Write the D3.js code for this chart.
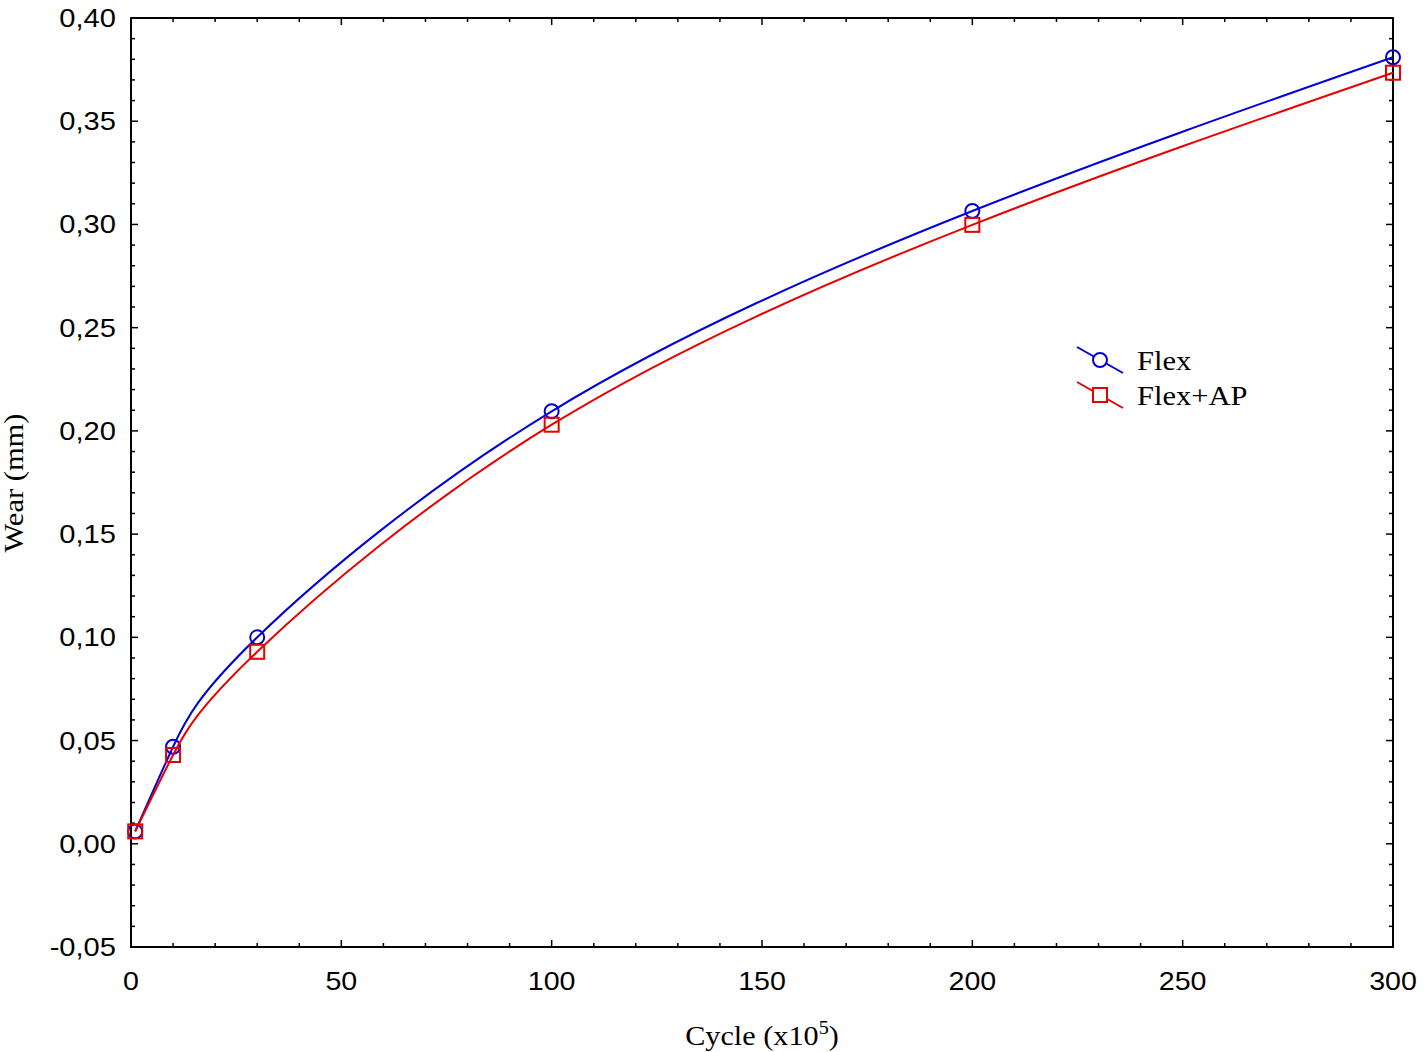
<!DOCTYPE html>
<html>
<head>
<meta charset="utf-8">
<script src="https://cdn.jsdelivr.net/npm/d3@7"></script>
<style>
  body { margin: 0; background: #fff; }
  svg { display: block; }
</style>
</head>
<body>
<div id="chart"></div>
<script>
// data
var cycles = [1, 10, 30, 100, 200, 300];
var flexWear = [0.006, 0.047, 0.100, 0.2095, 0.3065, 0.381];
var flexApWear = [0.006, 0.043, 0.093, 0.203, 0.2998, 0.3735];
var xTicks = [0, 50, 100, 150, 200, 250, 300];
var yTicks = [-0.05, 0, 0.05, 0.10, 0.15, 0.20, 0.25, 0.30, 0.35, 0.40];
var seriesNames = ["Flex", "Flex+AP"];
var seriesColors = ["#0000d8", "#e60000"];

var W = 1424, H = 1052;
var pLeft = 131, pRight = 1393, pTop = 18, pBottom = 947;
var sansFont = "Liberation Sans, Arial, sans-serif";
var serifFont = "Liberation Serif, Times New Roman, serif";
var mr = 7; // marker half size

var svg = d3.select("#chart").append("svg")
  .attr("width", W).attr("height", H);

var x = d3.scaleLinear().domain([0, 300]).range([pLeft, pRight]);
var y = d3.scaleLinear().domain([-0.05, 0.40]).range([pBottom, pTop]);

var fmt = function(d){ return d3.format(".2f")(d).replace(".", ",").replace("−", "-"); };

// minor + major ticks, pointing inward on all four sides
var xMinor = d3.range(0, 301, 10);
var yMinor = d3.range(-5, 41, 1).map(function(d){ return d / 100; });

var tk = svg.append("g").attr("stroke", "#000").attr("stroke-width", 1.5);
xMinor.forEach(function(v){
  var len = v % 50 === 0 ? 7 : 4;
  tk.append("line").attr("x1", x(v)).attr("x2", x(v)).attr("y1", pBottom).attr("y2", pBottom - len);
  tk.append("line").attr("x1", x(v)).attr("x2", x(v)).attr("y1", pTop).attr("y2", pTop + len);
});
yMinor.forEach(function(v){
  var len = Math.round(v * 100) % 5 === 0 ? 7 : 4;
  tk.append("line").attr("y1", y(v)).attr("y2", y(v)).attr("x1", pLeft).attr("x2", pLeft + len);
  tk.append("line").attr("y1", y(v)).attr("y2", y(v)).attr("x1", pRight).attr("x2", pRight - len);
});

svg.append("rect")
  .attr("x", pLeft).attr("y", pTop)
  .attr("width", pRight - pLeft).attr("height", pBottom - pTop)
  .attr("fill", "none").attr("stroke", "#000").attr("stroke-width", 2);

// tick labels (the original font is a bit wider, hence the x scale)
svg.selectAll("text.xt").data(xTicks).enter().append("text")
  .attr("class", "xt")
  .attr("transform", function(d){ return "translate(" + x(d) + ",990) scale(1.1,1)"; })
  .attr("text-anchor", "middle")
  .style("font-family", sansFont)
  .style("font-size", "26px")
  .text(function(d){ return d; });

svg.selectAll("text.yt").data(yTicks).enter().append("text")
  .attr("class", "yt")
  .attr("transform", function(d){ return "translate(116," + (y(d) + 9) + ") scale(1.12,1)"; })
  .attr("text-anchor", "end")
  .style("font-family", sansFont)
  .style("font-size", "26px")
  .text(function(d){ return fmt(d); });

// axis titles
var xt = svg.append("text")
  .attr("transform", "translate(762,1045) scale(1.12,1)")
  .attr("text-anchor", "middle")
  .style("font-family", serifFont)
  .style("font-size", "27px");
xt.append("tspan").text("Cycle (x10");
xt.append("tspan").attr("dy", -11).style("font-size", "18px").text("5");
xt.append("tspan").attr("dy", 11).text(")");

svg.append("text")
  .attr("transform", "translate(23,483) rotate(-90) scale(1.13,1)")
  .attr("text-anchor", "middle")
  .style("font-family", serifFont)
  .style("font-size", "27px")
  .text("Wear (mm)");

// series
var series = [flexWear, flexApWear].map(function(vals, i){
  return { name: seriesNames[i], color: seriesColors[i],
    pts: cycles.map(function(c, j){ return [c, vals[j]]; }) };
});

var line = d3.line()
  .x(function(d){ return x(d[0]); })
  .y(function(d){ return y(d[1]); })
  .curve(d3.curveNatural);

series.forEach(function(s, i){
  svg.append("path").attr("d", line(s.pts))
    .attr("fill", "none").attr("stroke", s.color).attr("stroke-width", 2);
  var g = svg.append("g");
  if (i === 0) {
    g.selectAll("circle").data(s.pts).enter().append("circle")
      .attr("cx", function(d){ return x(d[0]); })
      .attr("cy", function(d){ return y(d[1]); })
      .attr("r", mr)
      .attr("fill", "none").attr("stroke", s.color).attr("stroke-width", 2);
  } else {
    g.selectAll("rect").data(s.pts).enter().append("rect")
      .attr("x", function(d){ return x(d[0]) - mr; })
      .attr("y", function(d){ return y(d[1]) - mr; })
      .attr("width", mr * 2).attr("height", mr * 2)
      .attr("fill", "none").attr("stroke", s.color).attr("stroke-width", 2);
  }
});

// legend
series.forEach(function(s, i){
  var cy = 360 + i * 35;
  var g = svg.append("g");
  g.append("line").attr("x1", 1077).attr("y1", cy - 13).attr("x2", 1123).attr("y2", cy + 13)
    .attr("stroke", s.color).attr("stroke-width", 2);
  if (i === 0) {
    g.append("circle").attr("cx", 1100).attr("cy", cy).attr("r", mr)
      .attr("fill", "#fff").attr("stroke", s.color).attr("stroke-width", 2);
  } else {
    g.append("rect").attr("x", 1100 - mr).attr("y", cy - mr).attr("width", mr * 2).attr("height", mr * 2)
      .attr("fill", "#fff").attr("stroke", s.color).attr("stroke-width", 2);
  }
  g.append("text").attr("transform", "translate(1137," + (cy + 10) + ") scale(1.13,1)")
    .style("font-family", serifFont)
    .style("font-size", "27px")
    .text(s.name);
});
</script>
</body>
</html>
